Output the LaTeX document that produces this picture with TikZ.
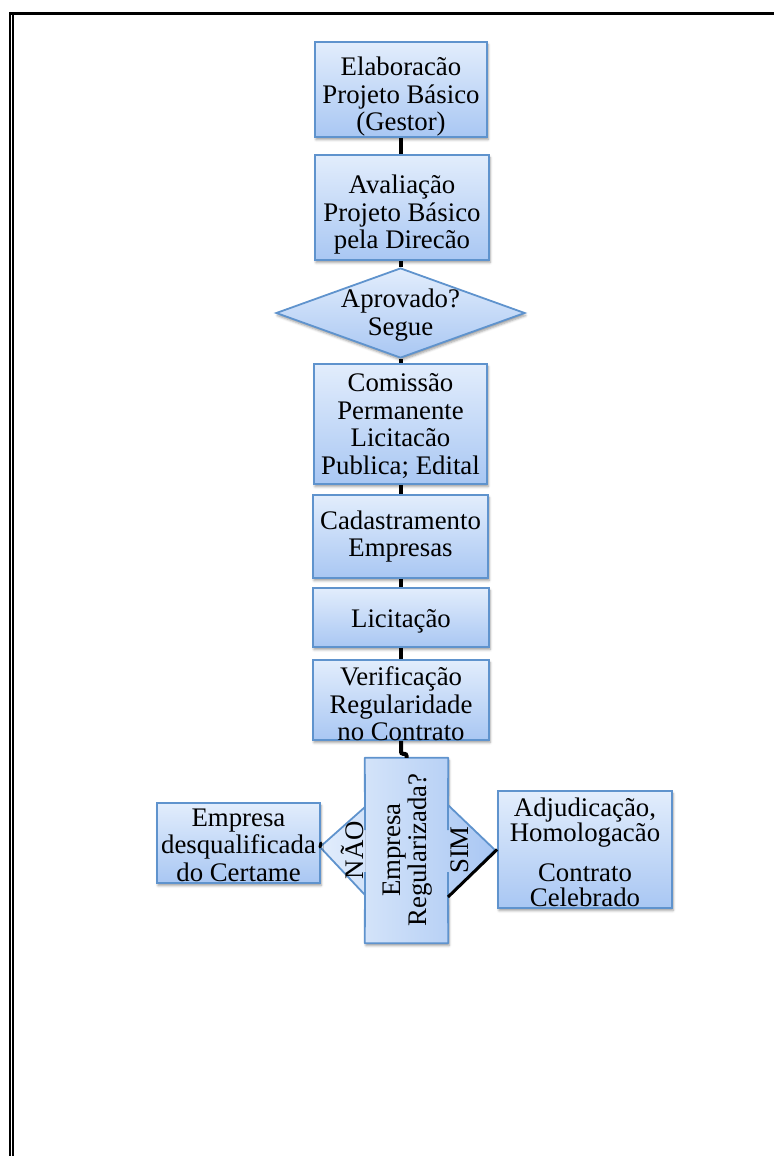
\documentclass[tikz,border=0pt]{standalone}
\usepackage{fontspec}
\setmainfont{Liberation Serif}
\usetikzlibrary{shapes.geometric,shadows.blur,calc}
\definecolor{edge}{HTML}{5F93CD}
\definecolor{filltop}{HTML}{E2EDFC}
\definecolor{fillbot}{HTML}{A9C7F3}
\begin{document}
\begin{tikzpicture}[x=1pt,y=-1pt,
  txt/.style={align=center, inner sep=0pt, font=\fontsize{26.8}{27.5}\selectfont},
  shade/.style={blur shadow={shadow xshift=1pt, shadow yshift=-2.5pt,
      shadow blur radius=2.5pt, shadow opacity=40}},
  boxshape/.style={shade, draw=edge, line width=1.8pt, inner sep=0pt,
      top color=filltop, bottom color=fillbot},
  stepbox/.style={txt, boxshape},
  question/.style={shade, draw=edge, line width=1.8pt, shape=diamond,
      aspect=2.77, inner sep=0pt, top color=filltop, bottom color=fillbot},
  conn/.style={line width=4pt, black},
  rim/.style={edge, line width=1.8pt, line join=round},
  tag/.style={txt, rotate=90}
]
\useasboundingbox (0,0) rectangle (774,1156);

% page frame
\draw[line width=3.5pt] (9,13.7) -- (774,13.7);
\draw[line width=1.8pt] (9.9,12) -- (9.9,1156);
\draw[line width=1.3pt] (13,15.5) -- (13,1156);

% main column: shapes, then their texts
\node[boxshape, minimum width=172pt, minimum height=95pt] (elab) at (401,89.5) {};
\node[txt] (elabtxt) at (401,97) {Elaboracão\\Projeto Básico\\(Gestor)};
\node[boxshape, minimum width=174pt, minimum height=105pt] (aval) at (402,207.5) {};
\node[txt] (avaltxt) at (402,215) {Avaliação\\Projeto Básico\\pela Direcão};
\node[question, minimum width=249pt, minimum height=90pt] (apr) at (400.5,313) {};
\node[txt] (aprtxt) at (400.5,315) {Aprovado?\\Segue};
\node[boxshape, minimum width=173pt, minimum height=120pt] (com) at (400.5,424) {};
\node[txt] (comtxt) at (400.5,426) {Comissão\\Permanente\\Licitacão\\Publica; Edital};
\node[stepbox, minimum width=175pt, minimum height=83pt] (cad) at (400.5,536.5)
  {Cadastramento\\Empresas};
\node[boxshape, minimum width=176pt, minimum height=59pt] (lic) at (401,617.5) {};
\node[txt] (lictxt) at (401,621) {Licitação};
\node[boxshape, minimum width=176pt, minimum height=80pt] (ver) at (401,700) {};
\node[txt] (vertxt) at (401,704) {Verificação\\Regularidade\\no Contrato};

% decision: upright bar with a point on each side
\coordinate (ltop) at (365,807);
\coordinate (ltip) at (320,847);
\coordinate (lbot) at (365,895);
\coordinate (rtop) at (448,805);
\coordinate (rtip) at (495,850);
\coordinate (rbot) at (448,897);
\node[shade, inner sep=0pt, minimum width=83pt, minimum height=185pt,
      left color=fillbot!26!filltop, right color=fillbot!73!filltop]
  (dec) at (406.5,850.5) {};
\fill[left color=filltop, right color=fillbot!26!filltop]
  (ltop) -- (ltip) -- (lbot) -- cycle;
\draw[rim] (ltop) -- (ltip) -- (lbot);
\fill[left color=fillbot!73!filltop, right color=fillbot]
  (rtop) -- (rtip) -- (rbot) -- cycle;
\draw[rim] (rtop) -- (rtip) -- (rbot);
% bar outline, open where the side labels sit
\draw[rim] (365,830) -- (dec.north west) -- (dec.north east) -- (448,830);
\draw[rim] (448,872) -- (dec.south east) -- (dec.south west) -- (365,872);
\node[txt, rotate=90, font=\fontsize{26.8}{26}\selectfont] (dectxt) at (408,850)
  {Empresa\\Regularizada?};
\node[tag] (nao) at (352,850) {NÃO};
\node[tag] (sim) at (460,850) {SIM};

% outcomes
\node[boxshape, minimum width=163pt, minimum height=80pt] (desq) at (238.5,843) {};
\node[txt] (desqtxt) at (238.5,845) {Empresa\\desqualificada\\do Certame};
\node[boxshape, minimum width=174pt, minimum height=117pt] (adj) at (585,849.5) {};
\node[txt, font=\fontsize{26.8}{25}\selectfont] (adjtxt) at (585,852)
  {Adjudicação,\\Homologacão\\[15pt]Contrato\\Celebrado};

% connectors
\draw[conn] (elab.south) -- (elab.south |- aval.north);
\draw[conn] (elab.south |- aval.south) -- (elab.south |- apr.north);
\draw[conn] (elab.south |- apr.south) -- (elab.south |- com.north);
\draw[conn] (elab.south |- com.south) -- (elab.south |- cad.north);
\draw[conn] (elab.south |- cad.south) -- (elab.south |- lic.north);
\draw[conn] (elab.south |- lic.south) -- (elab.south |- ver.north);
\draw[conn, rounded corners=2pt] (ver.south) |- ($(dec.north)+(0,-4)$) -- (dec.north);
\draw[line width=3pt, black, line cap=round] (ltip) -- (desq.east);
\draw[line width=3pt, black] (adj.west) -- (rbot);
\end{tikzpicture}
\end{document}
